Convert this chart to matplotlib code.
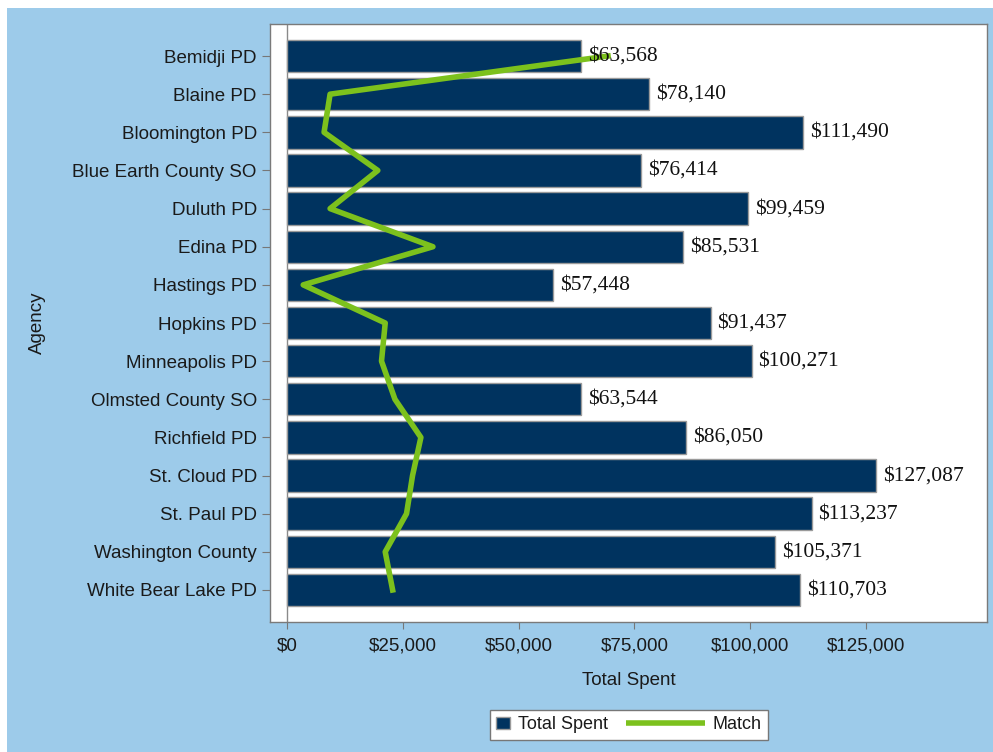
import matplotlib
matplotlib.use("Agg")
from matplotlib import pyplot as plt
from matplotlib.lines import Line2D
from matplotlib.patches import Rectangle
from matplotlib.ticker import FuncFormatter

# data
agencies = ["Bemidji PD", "Blaine PD", "Bloomington PD", "Blue Earth County SO",
            "Duluth PD", "Edina PD", "Hastings PD", "Hopkins PD", "Minneapolis PD",
            "Olmsted County SO", "Richfield PD", "St. Cloud PD", "St. Paul PD",
            "Washington County", "White Bear Lake PD"]
total_spent = [63568, 78140, 111490, 76414, 99459, 85531, 57448, 91437, 100271,
               63544, 86050, 127087, 113237, 105371, 110703]
match = [69300, 9300, 8000, 19600, 9300, 31500, 3500, 21200, 20400,
         23300, 28900, 27100, 25800, 21200, 22800]
x_ticks = [0, 25000, 50000, 75000, 100000, 125000]

plt.rcParams['font.family'] = ['Liberation Sans', 'DejaVu Sans']

navy = "#00335f"
green = "#7cc11d"
sky = "#9dcbea"
txt = "#1a1a1a"


# legend line that reaches back into the column gap
class LongLineHandler:
    def legend_artist(self, legend, orig_handle, fontsize, handlebox):
        x0, y0 = handlebox.xdescent, handlebox.ydescent
        w, h = handlebox.width, handlebox.height
        ext = 3.6 * fontsize
        ln = Line2D([-x0 - ext, -x0 + w], [h / 2 - y0, h / 2 - y0],
                    color=green, lw=4, solid_capstyle='butt')
        handlebox.add_artist(ln)
        return ln


fig = plt.figure(figsize=(9.93, 7.52), dpi=100)
fig.patches.append(Rectangle((7 / 993, 0), 1, 1 - 8 / 752, transform=fig.transFigure,
                             facecolor=sky, edgecolor='none', zorder=-5))

ax = fig.add_axes([270 / 993, 1 - 622 / 752, 717 / 993, 598 / 752])
ax.set_facecolor("white")

pos = list(range(len(agencies)))
ax.axvline(0, color="#8a8a8a", lw=1, zorder=1)
bars = ax.barh(pos, total_spent, height=0.85, color=navy, edgecolor="#9a9a9a",
               linewidth=1, zorder=2, label="Total Spent")
line, = ax.plot(match, pos, color=green, lw=4, zorder=3, label="Match")

for p, v in zip(pos, total_spent):
    ax.annotate("${:,}".format(v), (v, p), xytext=(5, 0), textcoords="offset points",
                va="center", ha="left", fontsize=15.5, family="Liberation Serif",
                color="#111111", zorder=4)

ax.set_ylim(len(agencies) - 1 + 0.84, -0.84)
ax.set_xlim(-3670, 151100)
ax.set_yticks(pos)
ax.set_yticklabels(agencies, fontsize=13.5, color=txt)
ax.set_xticks(x_ticks)
ax.xaxis.set_major_formatter(FuncFormatter(lambda v, _: "${:,.0f}".format(v)))
ax.tick_params(axis="x", labelsize=13.5, labelcolor=txt, color="#777777",
               length=5, pad=6)
ax.tick_params(axis="y", color="#777777", length=6, pad=3.5)

for s in ax.spines.values():
    s.set_color("#7a7a7a")
    s.set_linewidth(1)

ax.set_xlabel("Total Spent", fontsize=13.5, color=txt)
ax.set_ylabel("Agency", fontsize=13.5, color=txt)
ax.xaxis.set_label_coords(0.5, -0.084)
ax.yaxis.set_label_coords(-0.312, 0.5)

leg = fig.legend([bars, line], ["Total Spent", "Match"], ncol=2,
                 loc="center", bbox_to_anchor=(0.633, 0.036),
                 fontsize=13, handlelength=0.8, handletextpad=0.4,
                 columnspacing=4.6, fancybox=False, framealpha=1,
                 edgecolor="#777777", borderpad=0.35,
                 handler_map={line: LongLineHandler()})
for t in leg.get_texts():
    t.set_color(txt)
leg.get_frame().set_linewidth(1)

plt.savefig("out.png", dpi=100)
